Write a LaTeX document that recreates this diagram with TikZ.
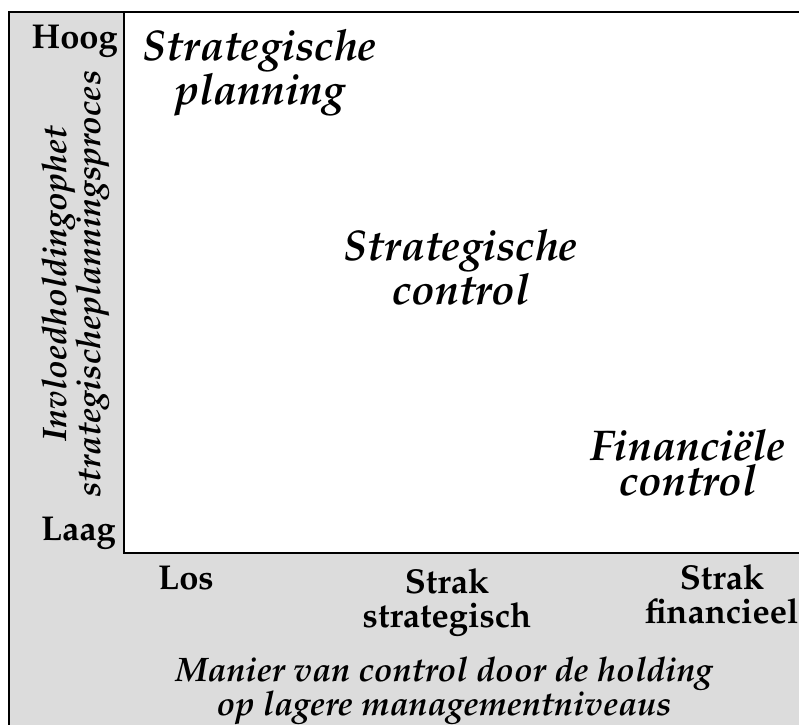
\documentclass[tikz,border=0pt]{standalone}
\usepackage[T1]{fontenc}
\usepackage{mathpazo}
\definecolor{panelgrey}{RGB}{220,220,220}
\begin{document}
\begin{tikzpicture}[x=1pt,y=-1pt]

      \tikzset{quadrant/.style={font=\bfseries\itshape\fontsize{43}{35}\selectfont, align=center, inner sep=0pt},
               level/.style={font=\bfseries\fontsize{34.5}{34}\selectfont, align=center, inner sep=0pt},
               axislabel/.style={font=\bfseries\itshape\fontsize{34}{34}\selectfont, align=center, inner sep=0pt}}
      \clip (0,0) rectangle (799,724);
%% Panels
      	\fill[panelgrey] (9,12) rectangle (810,740);
      	\draw[line width=1.5pt, fill=white] (124,12) rectangle (810,553);
      	\draw[line width=2pt] (9,740) -- (9,12) -- (810,12);
%% Quadrant texts
      	\node[quadrant, anchor=base] (plan) at (260,104) {Strategische\\planning};
      	\node[quadrant, anchor=base] (strat) at (461,304) {Strategische\\control};
      	\node[quadrant, anchor=base] (fin) at (688,495) {Financiële\\control};
%Levels
      	\node[level, anchor=base east] (hoog) at (118,48) {Hoog};
      	\node[level, anchor=base east] (laag) at (116,540) {Laag};
      	\node[level, anchor=base] (los) at (186,589) {Los};
      	\node[level, anchor=base] (strak1) at (447,627) {Strak\\strategisch};
      	\node[level, anchor=base] (strak2) at (722,623) {Strak\\financieel};
%Axes
      	\node[axislabel, anchor=base] (xas) at (444,715) {Manier van control door de holding\\op lagere managementniveaus};
      	\node[axislabel, rotate=90, anchor=base] (yas) at (100,284) {Invloedholdingophet\\strategischeplanningsproces};

	\end{tikzpicture}
\end{document}
